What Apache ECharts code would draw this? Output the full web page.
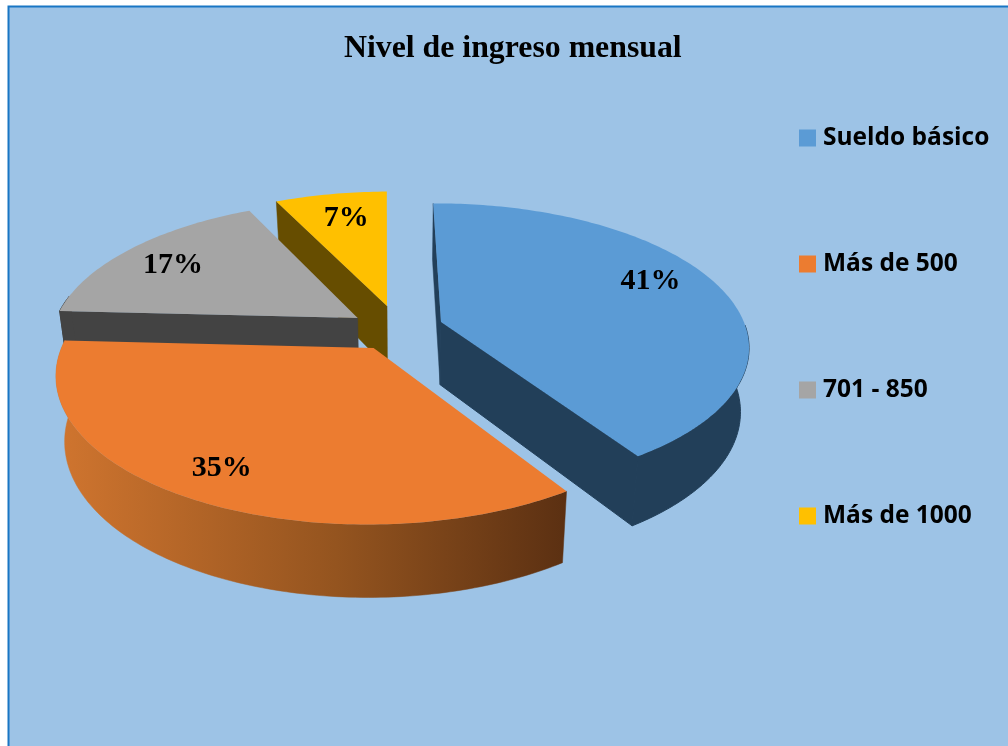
<!DOCTYPE html>
<html>
<head>
<meta charset="utf-8">
<script src="https://cdn.jsdelivr.net/npm/echarts@6/dist/echarts.min.js"></script>
<style>html,body{margin:0;padding:0;background:#fff}#c{width:1008px;height:746px}</style>
</head>
<body>
<div id="c"></div>
<script>
var chartTitle = 'Nivel de ingreso mensual';
var categories = ['Sueldo básico', 'Más de 500', '701 - 850', 'Más de 1000'];
var values = [41, 35, 17, 7];

// styles and projection settings
var topColors = ['#5B9BD5', '#EC7C30', '#A5A5A5', '#FFC000'];
var wallColors = ['#223F59', '#5B3012', '#434343', '#664D00'];
var rimGradient = [
  { offset: 0, color: '#D0752F' }, { offset: 0.55, color: '#94541F' }, { offset: 1, color: '#5B3012' }
];
var explode = [[0.1189, -0.0432], [-0.1005, 0.1396], [-0.157, -0.0723], [-0.0606, -0.1613]];
var labelSpot = [[0.795, -6], [0.83, 0], [0.78, -2], [0.76, 1]];
var showStartWall = [true, false, true, true];
var showEndWall = [true, false, false, false];
var frontRange = [92, 280];
var drawOrder = [3, 2, 0, 1];
var view = { cx: 405, cy: 328, r: 305, rs: 140, k: 0.165, depth: 63, depthK: 0.12, squeeze: 0.025, rotate: -0.6 };

var total = values.reduce(function (a, b) { return a + b; }, 0);
var starts = [];
values.reduce(function (acc, v, i) { starts[i] = acc; return acc + v; }, 0);

function project(x, y, z) {
  var den = 1 - view.k * y;
  var X = view.cx + view.r * x / den;
  var Y = view.cy + view.rs * y / den;
  if (z) {
    X = view.cx + (X - view.cx) * (1 - view.squeeze);
    Y += view.depth / (1 - view.depthK * y);
  }
  return [X, Y];
}
function disc(i, deg, rad) {
  var a = (deg + view.rotate) * Math.PI / 180;
  return [explode[i][0] + rad * Math.sin(a), explode[i][1] - rad * Math.cos(a)];
}
function arc(i, z, a0, a1) {
  var pts = [], n = Math.max(8, Math.round(a1 - a0));
  for (var s = 0; s <= n; s++) {
    var d = disc(i, a0 + (a1 - a0) * s / n, 1);
    pts.push(project(d[0], d[1], z));
  }
  return pts;
}
function poly(pts, fill, z2, lw) {
  return { type: 'polygon', z2: z2, silent: true, shape: { points: pts }, style: { fill: fill, stroke: fill, lineWidth: lw } };
}
function makeRender(i) {
  return function () {
    var a0 = starts[i] / total * 360, a1 = (starts[i] + values[i]) / total * 360;
    var topArc = arc(i, false, a0, a1), lowArc = arc(i, true, a0, a1);
    var c = explode[i];
    var apex = project(c[0], c[1], false), apexLow = project(c[0], c[1], true);
    var kids = [];
    if (showStartWall[i]) {
      kids.push(poly([apex, topArc[0], lowArc[0], apexLow], wallColors[i], 1, 0.5));
    }
    if (showEndWall[i]) {
      kids.push(poly([apex, topArc[topArc.length - 1], lowArc[lowArc.length - 1], apexLow], wallColors[i], 1, 1));
    }
    var f0 = Math.max(a0, frontRange[0]), f1 = Math.min(a1, frontRange[1]);
    if (f1 > f0) {
      var gradient = i === 1;
      var rimFill = gradient ? new echarts.graphic.LinearGradient(0, 0, 1, 0, rimGradient) : wallColors[i];
      kids.push(poly(arc(i, false, f0, f1).concat(arc(i, true, f0, f1).reverse()), rimFill, 2, gradient ? 0.5 : 1));
    }
    kids.push(poly([apex].concat(topArc), topColors[i], 3, 0));
    var mid = (starts[i] + values[i] / 2) / total * 360 + labelSpot[i][1];
    var d = disc(i, mid, labelSpot[i][0]);
    var p = project(d[0], d[1], false);
    kids.push({
      type: 'text', z2: 10, silent: true, x: p[0], y: p[1],
      style: {
        text: Math.round(values[i] / total * 100) + '%',
        font: 'bold 30px "Liberation Serif"', fill: '#000',
        align: 'center', verticalAlign: 'middle'
      }
    });
    return { type: 'group', children: kids };
  };
}

var series = drawOrder.map(function (i, pos) {
  return {
    type: 'custom', name: categories[i], coordinateSystem: 'none', z: 2 + pos,
    silent: true, animation: false,
    itemStyle: { color: topColors[i] },
    data: [values[i]],
    renderItem: makeRender(i)
  };
});

var chart = echarts.init(document.getElementById('c'), null, { renderer: 'canvas' });
chart.setOption({
  animation: false,
  backgroundColor: '#fff',
  title: {
    text: chartTitle, left: 339, top: 28,
    textStyle: { fontFamily: 'Liberation Serif', fontWeight: 'bold', fontSize: 31.8, color: '#000' }
  },
  legend: {
    orient: 'vertical', left: 799, top: 125.5, padding: 0,
    itemWidth: 17, itemHeight: 17, itemGap: 101, icon: 'rect',
    data: categories, selectedMode: false,
    textStyle: { fontFamily: 'Open Sans', fontWeight: 'bold', fontSize: 24.5, color: '#000', padding: [0, 0, 0, 2] }
  },
  graphic: [{
    type: 'rect', z: -1, silent: true,
    shape: { x: 8.5, y: 6.5, width: 1100, height: 800 },
    style: { fill: '#9DC3E6', stroke: '#1976C4', lineWidth: 2 }
  }],
  series: series
});
</script>
</body>
</html>
